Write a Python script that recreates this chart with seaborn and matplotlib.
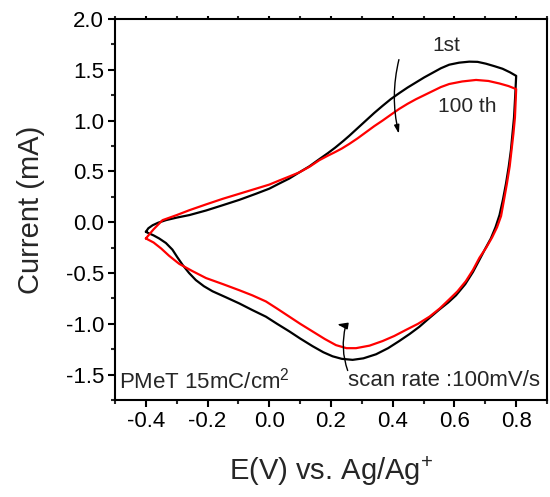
import numpy as np
import pandas as pd
import matplotlib
matplotlib.use("Agg")
import matplotlib.pyplot as plt
import seaborn as sns
from matplotlib.ticker import MultipleLocator

# ---- data ----
cycles = ["1st", "100 th"]
colors = ["black", "red"]

e_1st = [-0.400, -0.392, -0.378, -0.360, -0.335, -0.300, -0.259, -0.205, -0.151, -0.097,
         -0.043, 0.000, 0.032, 0.065, 0.097, 0.130, 0.162, 0.190, 0.214, 0.240,
         0.259, 0.286, 0.313, 0.340, 0.367, 0.394, 0.421, 0.448, 0.475, 0.502,
         0.529, 0.556, 0.583, 0.615, 0.648, 0.675, 0.702, 0.730, 0.756, 0.780, 0.800,
         0.797, 0.793, 0.788, 0.783, 0.776, 0.767, 0.757, 0.746, 0.733, 0.718,
         0.700, 0.681, 0.660, 0.635, 0.605, 0.580, 0.551, 0.520, 0.486, 0.455,
         0.421, 0.385, 0.346, 0.305, 0.270, 0.235, 0.205, 0.175, 0.140, 0.100,
         0.065, 0.025, -0.011, -0.055, -0.097, -0.140, -0.184, -0.212, -0.238, -0.260,
         -0.281, -0.298, -0.314, -0.335, -0.357, -0.375, -0.390, -0.400]
i_1st = [-0.095, -0.060, -0.030, -0.005, 0.020, 0.045, 0.070, 0.115, 0.167, 0.220,
         0.280, 0.330, 0.380, 0.430, 0.490, 0.550, 0.620, 0.680, 0.735, 0.800,
         0.850, 0.925, 1.000, 1.075, 1.145, 1.212, 1.270, 1.325, 1.375, 1.425,
         1.470, 1.515, 1.550, 1.570, 1.580, 1.578, 1.560, 1.535, 1.510, 1.475, 1.440,
         1.250, 1.030, 0.870, 0.710, 0.550, 0.380, 0.220, 0.070, -0.050, -0.160,
         -0.260, -0.370, -0.490, -0.610, -0.720, -0.790, -0.860, -0.940, -1.030, -1.100,
         -1.170, -1.240, -1.300, -1.340, -1.355, -1.345, -1.320, -1.280, -1.220, -1.145,
         -1.075, -1.000, -0.930, -0.865, -0.800, -0.740, -0.680, -0.630, -0.570, -0.500,
         -0.420, -0.345, -0.270, -0.205, -0.160, -0.130, -0.110, -0.095]

e_100th = [-0.400, -0.375, -0.346, -0.300, -0.259, -0.205, -0.151, -0.097, -0.043, 0.000,
           0.032, 0.065, 0.097, 0.130, 0.162, 0.190, 0.210, 0.235, 0.259, 0.286,
           0.313, 0.340, 0.367, 0.394, 0.421, 0.448, 0.475, 0.502, 0.529, 0.556,
           0.583, 0.625, 0.670, 0.710, 0.746, 0.775, 0.800,
           0.798, 0.796, 0.791, 0.785, 0.779, 0.770, 0.760, 0.751, 0.738, 0.722,
           0.703, 0.681, 0.660, 0.637, 0.610, 0.583, 0.552, 0.519, 0.482, 0.443,
           0.405, 0.367, 0.325, 0.281, 0.250, 0.216, 0.180, 0.140, 0.100, 0.065,
           0.025, -0.011, -0.055, -0.097, -0.150, -0.205, -0.250, -0.292, -0.325, -0.350,
           -0.375, -0.400]
i_100th = [-0.160, -0.070, 0.020, 0.070, 0.118, 0.175, 0.230, 0.280, 0.330, 0.370,
           0.410, 0.450, 0.490, 0.545, 0.610, 0.655, 0.685, 0.725, 0.770, 0.825,
           0.885, 0.945, 1.000, 1.058, 1.115, 1.165, 1.210, 1.250, 1.290, 1.330,
           1.360, 1.385, 1.400, 1.390, 1.365, 1.340, 1.310,
           1.170, 1.030, 0.870, 0.710, 0.550, 0.380, 0.210, 0.060, -0.050, -0.150,
           -0.250, -0.350, -0.470, -0.580, -0.680, -0.760, -0.850, -0.930, -1.000, -1.060,
           -1.120, -1.170, -1.215, -1.240, -1.240, -1.210, -1.150, -1.075, -1.000, -0.930,
           -0.850, -0.780, -0.720, -0.670, -0.610, -0.550, -0.480, -0.410, -0.330, -0.260,
           -0.200, -0.160]

x_ticks = [-0.4, -0.2, 0.0, 0.2, 0.4, 0.6, 0.8]
y_ticks = [-1.5, -1.0, -0.5, 0.0, 0.5, 1.0, 1.5, 2.0]

# ---- style ----
sns.set_style("ticks")
plt.rcParams["font.family"] = ["Liberation Sans", "DejaVu Sans"]
plt.rcParams["mathtext.fontset"] = "custom"
plt.rcParams["mathtext.rm"] = "Liberation Sans"
plt.rcParams["mathtext.it"] = "Liberation Sans:italic"
plt.rcParams["mathtext.bf"] = "Liberation Sans:bold"

df = pd.concat([
    pd.DataFrame({"E": e_1st, "I": i_1st, "cycle": cycles[0]}),
    pd.DataFrame({"E": e_100th, "I": i_100th, "cycle": cycles[1]}),
], ignore_index=True)

fig = plt.figure(figsize=(5.5, 4.97), dpi=100)
ax = fig.add_axes([0.2091, 0.1952, 0.7855, 0.7666])

for name, col in zip(cycles, colors):
    sub = df[df["cycle"] == name]
    sns.lineplot(data=sub, x="E", y="I", sort=False, estimator=None,
                 color=col, lw=1.6, ax=ax, legend=False)

ax.set_xlim(-0.5, 0.9)
ax.set_ylim(-1.75, 2.0)
ax.set_xticks(x_ticks)
ax.set_yticks(y_ticks)
ax.set_xticklabels([f"{v:.1f}" for v in x_ticks])
ax.set_yticklabels([f"{v:.1f}" for v in y_ticks])
ax.xaxis.set_minor_locator(MultipleLocator(0.1))
ax.yaxis.set_minor_locator(MultipleLocator(0.25))

for s in ax.spines.values():
    s.set_visible(True)
    s.set_linewidth(1.5)
    s.set_color("black")

ax.tick_params(which="major", direction="out", length=5, width=1.5, labelsize=16,
               colors="black", pad=3)
ax.tick_params(which="minor", direction="out", length=3, width=1.5)
ax.tick_params(which="both", top=True, bottom=True, left=True, right=False)
ax.tick_params(axis="x", which="both", top=True, labeltop=False)
for t in ax.xaxis.get_major_ticks() + ax.xaxis.get_minor_ticks():
    t.tick2line.set_color("#aaaaaa")
    t.tick2line.set_markersize(2)

ax.set_xlabel("E(V) vs. Ag/Ag$^{+}$", fontsize=21, labelpad=16)
ax.set_ylabel("Current (mA)", fontsize=21, labelpad=15)

# ---- annotations ----
ax.text(0.574, 1.735, "1st", fontsize=15, ha="center", va="center")
ax.text(0.642, 1.137, "100 th", fontsize=15, ha="center", va="center")
ax.annotate("", xy=(0.42, 0.87), xytext=(0.42, 1.60),
            arrowprops=dict(arrowstyle="-|>,head_length=0.5,head_width=0.15",
                            color="black", lw=1.0,
                            connectionstyle="arc3,rad=0.12",
                            shrinkA=0, shrinkB=0))
# scan-direction arrow: curved stem plus a left-pointing head
ax.annotate("", xy=(0.247, -1.025), xytext=(0.254, -1.46),
            arrowprops=dict(arrowstyle="-", color="black", lw=1.0,
                            connectionstyle="arc3,rad=-0.15",
                            shrinkA=0, shrinkB=0))
ax.annotate("", xy=(0.220, -1.005), xytext=(0.249, -1.02),
            arrowprops=dict(arrowstyle="-|>,head_length=0.6,head_width=0.2",
                            color="black", lw=1.0, shrinkA=0, shrinkB=0))
ax.text(-0.487, -1.56, "PMeT 15mC/cm$^{2}$", fontsize=16, ha="left", va="center")
ax.text(0.877, -1.56, "scan rate :100mV/s", fontsize=16, ha="right", va="center")

fig.savefig("out.png", dpi=100)
